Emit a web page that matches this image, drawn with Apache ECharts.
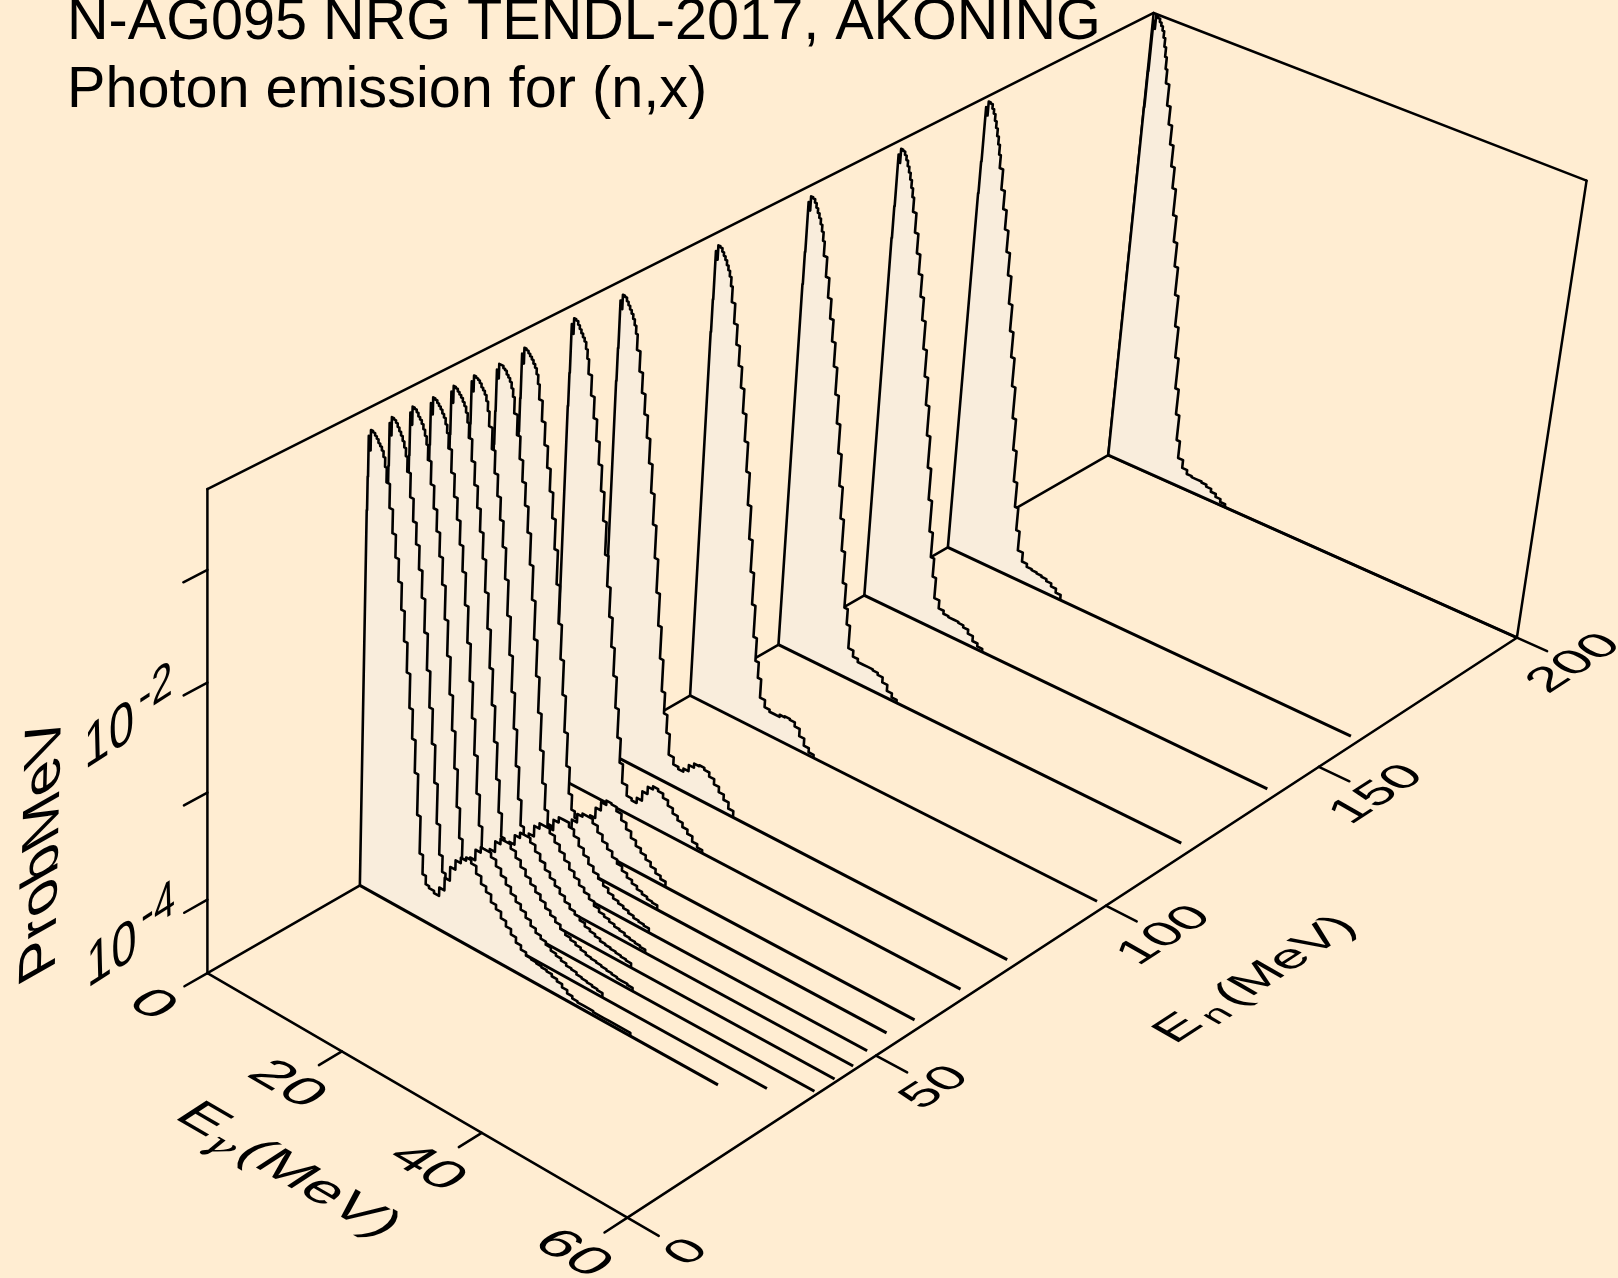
<!DOCTYPE html>
<html><head><meta charset="utf-8">
<style>html,body{margin:0;padding:0;background:#FFEDD2;overflow:hidden}#c{width:1618px;height:1278px}</style>
<script src="https://cdn.jsdelivr.net/npm/echarts@6/dist/echarts.min.js"></script></head>
<body><div id="c"></div>
<script>
// ---------- data ----------
const gammaEdges = [0,.05,.1,.2,.4,.7,1,1.25,1.5,1.75,2,2.25,2.5,2.75,3.25,3.75,4.25,4.75,5.25,5.75,6.25,6.75,7.25,7.75,8.25,8.75,9.25,9.75,10.25,11,11.75,12.5,13.25,14,14.75,15.5,16.25,17,17.75,18.5,19.25,20,20.75,21.5,22.25,23,23.75,24.5,25.25,26,26.75,27.5,28.25,29,29.75,30.5,31.25,32,32.75,33.5,34.25,35,35.75,36.5,37.25,38,38.75,39.5];
const neutronEnergies = [30,34,38,42,46,50,55,60,70,80,100,120,140,160,200];
const baselineEnds    = [51.7,55.7,59.5,59.6,59.5,58.8,58.2,58.8,58.7,58.8,58.8,58.4,58.6,58.8,60];
// log10(Prob/MeV) in each gamma bin
const spec30 = [-1.2,-.9,-.54,-.66,-.48,-.49,-.51,-.53,-.56,-.58,-.61,-.66,-.74,-.87,-1.08,-1.29,-1.49,-1.69,-1.93,-2.2,-2.47,-2.78,-3.05,-3.35,-3.73,-4.08,-4.26,-4.34,-4.36,-4.38,-4.3,-4.18,-4.05,-3.96,-3.91,-3.88,-3.91,-3.98,-4.05,-4.1,-4.17,-4.21,-4.27,-4.32,-4.37,-4.42,-4.46,-4.49,-4.5,-4.51,-4.52,-4.53,-4.55,-4.57,-4.6,-4.63,-4.65,-4.66,-4.66,-4.66,-4.67,-4.67,-4.67,-4.67,-4.67,-4.67,-4.67];
const spec34 = [-1.2,-.9,-.52,-.62,-.46,-.47,-.49,-.52,-.55,-.58,-.62,-.67,-.74,-.87,-1.08,-1.28,-1.47,-1.68,-1.92,-2.22,-2.55,-2.88,-3.2,-3.55,-3.92,-4.2,-4.35,-4.4,-4.4,-4.42,-4.33,-4.2,-4.07,-3.97,-3.92,-3.92,-3.96,-4.02,-4.08,-4.14,-4.2,-4.25,-4.3,-4.35,-4.4,-4.44,-4.47,-4.5,-4.53,-4.55,-4.57,-4.59,-4.6,-4.62,-4.63,-4.64,-4.65,-4.66];
const spec38 = [-1.2,-.9,-.52,-.62,-.46,-.47,-.49,-.52,-.54,-.57,-.61,-.66,-.73,-.86,-1.06,-1.26,-1.45,-1.66,-1.9,-2.2,-2.52,-2.86,-3.18,-3.52,-3.87,-4.15,-4.33,-4.4,-4.42,-4.44,-4.36,-4.23,-4.1,-4,-3.95,-3.95,-3.99,-4.05,-4.11,-4.17,-4.22,-4.27,-4.32,-4.37,-4.41,-4.45,-4.49,-4.52,-4.54,-4.56,-4.58,-4.6,-4.61,-4.62,-4.63,-4.64,-4.65,-4.66,-4.66,-4.67];
const spec42 = [-1.2,-.9,-.53,-.62,-.47,-.48,-.5,-.52,-.54,-.57,-.6,-.65,-.72,-.85,-1.05,-1.25,-1.44,-1.65,-1.88,-2.17,-2.5,-2.84,-3.17,-3.5,-3.85,-4.14,-4.34,-4.42,-4.44,-4.46,-4.39,-4.27,-4.14,-4.05,-4,-4,-4.04,-4.1,-4.16,-4.22,-4.27,-4.32,-4.37,-4.42,-4.46,-4.49,-4.52,-4.55,-4.57,-4.59,-4.61,-4.62,-4.63,-4.64,-4.65,-4.66];
const spec46 = [-1.2,-.9,-.52,-.61,-.46,-.47,-.49,-.51,-.53,-.56,-.59,-.64,-.72,-.85,-1.04,-1.24,-1.43,-1.63,-1.86,-2.15,-2.47,-2.82,-3.15,-3.48,-3.82,-4.12,-4.34,-4.44,-4.46,-4.48,-4.41,-4.3,-4.17,-4.07,-4.02,-4.02,-4.06,-4.12,-4.18,-4.24,-4.3,-4.35,-4.4,-4.44,-4.48,-4.52,-4.55,-4.57,-4.59,-4.61,-4.62,-4.64,-4.65,-4.66,-4.67];
const spec50 = [-1.2,-.9,-.52,-.6,-.46,-.47,-.48,-.5,-.53,-.55,-.58,-.63,-.71,-.84,-1.03,-1.23,-1.42,-1.62,-1.85,-2.13,-2.45,-2.8,-3.13,-3.46,-3.8,-4.1,-4.34,-4.46,-4.48,-4.5,-4.44,-4.34,-4.22,-4.12,-4.07,-4.07,-4.11,-4.17,-4.24,-4.3,-4.36,-4.41,-4.45,-4.49,-4.53,-4.56,-4.58,-4.6,-4.62,-4.64,-4.65,-4.66];
const spec55 = [-1.2,-.9,-.53,-.6,-.47,-.47,-.49,-.5,-.53,-.55,-.58,-.63,-.7,-.84,-1.02,-1.22,-1.41,-1.61,-1.84,-2.12,-2.43,-2.78,-3.11,-3.44,-3.78,-4.08,-4.32,-4.46,-4.5,-4.52,-4.47,-4.38,-4.28,-4.2,-4.17,-4.17,-4.21,-4.27,-4.33,-4.38,-4.43,-4.47,-4.51,-4.55,-4.58,-4.61,-4.63,-4.65,-4.66];
const spec60 = [-1.2,-.9,-.5,-.58,-.44,-.45,-.47,-.49,-.51,-.54,-.57,-.62,-.7,-.83,-1.01,-1.21,-1.4,-1.6,-1.83,-2.1,-2.41,-2.76,-3.08,-3.4,-3.74,-4.05,-4.3,-4.44,-4.5,-4.53,-4.48,-4.4,-4.3,-4.22,-4.18,-4.19,-4.23,-4.29,-4.35,-4.41,-4.46,-4.5,-4.54,-4.58,-4.62,-4.65];
const spec70 = [-1.2,-.9,-.46,-.54,-.4,-.41,-.44,-.47,-.5,-.53,-.56,-.62,-.7,-.83,-1.01,-1.2,-1.39,-1.59,-1.82,-2.08,-2.38,-2.66,-2.93,-3.2,-3.46,-3.75,-4.02,-4.25,-4.43,-4.53,-4.55,-4.5,-4.41,-4.34,-4.31,-4.33,-4.37,-4.42,-4.47,-4.51,-4.55,-4.59,-4.64,-4.67];
const spec80 = [-1.2,-.9,-.47,-.54,-.41,-.42,-.45,-.48,-.51,-.54,-.58,-.63,-.7,-.84,-1.02,-1.2,-1.38,-1.58,-1.8,-2.06,-2.34,-2.64,-2.95,-3.25,-3.55,-3.85,-4.05,-4.22,-4.42,-4.49,-4.51,-4.48,-4.42,-4.38,-4.37,-4.39,-4.43,-4.48,-4.53,-4.58,-4.64];
const spec100 = [-1.2,-.9,-.46,-.53,-.4,-.41,-.44,-.47,-.5,-.54,-.58,-.63,-.71,-.85,-1.03,-1.21,-1.39,-1.58,-1.8,-2.05,-2.32,-2.62,-2.93,-3.23,-3.53,-3.83,-4.05,-4.2,-4.38,-4.45,-4.47,-4.47,-4.45,-4.44,-4.45,-4.49,-4.56,-4.63,-4.67];
const spec120 = [-1.2,-.9,-.44,-.51,-.38,-.39,-.42,-.46,-.5,-.54,-.59,-.65,-.73,-.86,-1.04,-1.22,-1.4,-1.6,-1.82,-2.07,-2.33,-2.6,-2.9,-3.2,-3.5,-3.8,-4.03,-4.18,-4.4,-4.46,-4.49,-4.49,-4.49,-4.5,-4.52,-4.57,-4.63,-4.67];
const spec140 = [-1.2,-.9,-.42,-.49,-.36,-.37,-.4,-.44,-.49,-.54,-.6,-.67,-.75,-.88,-1.06,-1.24,-1.42,-1.62,-1.83,-2.09,-2.34,-2.6,-2.88,-3.18,-3.48,-3.78,-4.02,-4.2,-4.4,-4.48,-4.51,-4.52,-4.52,-4.53,-4.55,-4.59,-4.64,-4.67];
const spec160 = [-1.2,-.9,-.39,-.46,-.33,-.34,-.38,-.42,-.48,-.54,-.61,-.68,-.77,-.89,-1.08,-1.25,-1.43,-1.63,-1.84,-2.1,-2.35,-2.59,-2.86,-3.16,-3.46,-3.76,-4,-4.22,-4.41,-4.5,-4.53,-4.54,-4.55,-4.56,-4.58,-4.61,-4.65];
const spec200 = [-1.2,-.85,-.37,-.44,-.31,-.33,-.36,-.39,-.43,-.49,-.57,-.66,-.77,-.9,-1.1,-1.27,-1.45,-1.65,-1.85,-2.1,-2.35,-2.58,-2.85,-3.15,-3.45,-3.75,-4,-4.25,-4.42,-4.5,-4.54,-4.55,-4.55,-4.56,-4.58,-4.61,-4.64,-4.67];
const spectra = [spec30,spec34,spec38,spec42,spec46,spec50,spec55,spec60,spec70,spec80,spec100,spec120,spec140,spec160,spec200];
const gammaTicks = [0,20,40,60];
const neutronTicks = [0,50,100,150,200];
const probTicks = [-4,-3,-2,-1];
const probLabels = [-4,-2];
const titleLines = ['N-AG095 NRG TENDL-2017, AKONING','Photon emission for (n,x)'];

// ---------- box ranges and camera ----------
const gammaMax = 60, neutronMax = 200, logMin = -4.7, logMax = -0.3;
const S = 1618/1568;
const cam = {g:-.05815,h:.15435,i:-.0554,A:371.64,B:1038.77,C:-11.14,X:201,D:168.38,E:-433.93,F:-495.26,Y:943};
function project(eg,en,lg){
  const x=eg/gammaMax,y=en/neutronMax,z=(lg-logMin)/(logMax-logMin);
  const w=1+cam.g*x+cam.h*y+cam.i*z;
  return [S*(cam.A*x+cam.B*y+cam.C*z+cam.X)/w, S*(cam.D*x+cam.E*y+cam.F*z+cam.Y)/w];
}
const INK='#000', BG='#FFEDD2', FILL='#F9EDDC', FONT='"Liberation Sans",Arial,sans-serif';

function frame(X,Y){ // X: image of text +x, Y: image of text +y (down)
  const th=Math.atan2(-X[1],X[0]),ct=Math.cos(th),st=Math.sin(th);
  const y1=Y[0]*ct-Y[1]*st,y2=Y[0]*st+Y[1]*ct;
  return {rotation:th,scaleX:Math.hypot(X[0],X[1]),scaleY:y2,skewX:Math.atan(y1/y2)};
}
const gammaFrame=[[1.07,.62],[-.86,.56]];
const neutronFrame=[[.91,-.59],[.8,.46]];
const probFrame=[[.9,-.58],[.03,1.2]];
const probTitleFrame=[[.03,-1.24],[1.05,-.6]];

function textEl(str,pt,fr,size,dx,dy,style){
  const f=frame(fr[0],fr[1]);
  const px=pt[0]+fr[0][0]*(dx||0)+fr[1][0]*(dy||0);
  const py=pt[1]+fr[0][1]*(dx||0)+fr[1][1]*(dy||0);
  return {type:'text',x:px,y:py,rotation:f.rotation,scaleX:f.scaleX,scaleY:f.scaleY,skewX:f.skewX,silent:true,
    style:Object.assign({text:str,fontSize:size,fontFamily:FONT,fill:INK,align:'center',verticalAlign:'middle'},style||{})};
}
function line(api,a,b,w){
  const p=api.coord(a),q=api.coord(b);
  return {type:'line',shape:{x1:p[0],y1:p[1],x2:q[0],y2:q[1]},style:{stroke:INK,lineWidth:w||2.5,lineCap:'round'},silent:true};
}
function boxItem(params,api){
  const c=[],P=project,g=gammaMax,n=neutronMax,b=logMin,t=logMax;
  const L=(u,v,w)=>c.push(line(api,u,v,w));
  L(P(0,0,b),P(0,0,t)); L(P(0,0,t),P(0,n,t)); L(P(0,n,t),P(g,n,t)); L(P(g,n,t),P(g,n,b));
  L(P(0,n,b),P(0,n,t)); L(P(0,0,b),P(0,n,b)); L(P(0,n,b),P(g,n,b));
  L(P(0,0,b),P(g,0,b)); L(P(g,0,b),P(g,n,b));
  gammaTicks.forEach(e=>L(P(e,0,b),P(e,-4.4,b)));
  neutronTicks.forEach(e=>L(P(g,e,b),P(64.2,e,b)));
  probTicks.forEach(v=>L(P(0,0,v),P(0,-4.4,v)));
  return {type:'group',children:c};
}
function labelItem(){
  const c=[];
  gammaTicks.forEach(e=>c.push(textEl(String(e),project(e,-10.6,logMin),gammaFrame,50)));
  neutronTicks.forEach(e=>c.push(textEl(String(e),project(68,e,logMin),neutronFrame,50)));
  probLabels.forEach(v=>{
    const a=project(0,-18,v-.02);
    c.push(textEl('10',a,probFrame,50));
    c.push(textEl('-'+Math.abs(v),a,probFrame,42,52,-14));
  });
  const tg=project(30,-24,logMin);
  c.push(textEl('E',tg,gammaFrame,50,-78,-2));
  c.push(textEl('γ',tg,gammaFrame,36,-50,14,{fontFamily:'"DejaVu Serif",serif',fontStyle:'italic'}));
  c.push(textEl('(MeV)',tg,gammaFrame,50,32,0));
  const tn=project(80,100,logMin);
  c.push(textEl('E',tn,neutronFrame,50,-82,-2));
  c.push(textEl('n',tn,neutronFrame,36,-50,10));
  c.push(textEl('(MeV)',tn,neutronFrame,50,34,0));
  c.push(textEl('ProbMeV',project(0,-30,-2.69),probTitleFrame,50));
  return {type:'group',children:c};
}
function spectrumItem(idx){
  return function(params,api){
    const en=neutronEnergies[idx],vals=spectra[idx],pts=[];
    pts.push(api.coord(project(0,en,logMin)));
    vals.forEach((v,i)=>{
      pts.push(api.coord(project(gammaEdges[i],en,v)));
      pts.push(api.coord(project(gammaEdges[i+1],en,v)));
    });
    pts.push(api.coord(project(gammaEdges[vals.length],en,logMin)));
    const a=api.coord(project(0,en,logMin)),b=api.coord(project(baselineEnds[idx],en,logMin));
    return {type:'group',children:[
      {type:'polygon',shape:{points:pts},style:{fill:FILL,stroke:null},silent:true},
      {type:'line',shape:{x1:a[0],y1:a[1],x2:b[0],y2:b[1]},style:{stroke:INK,lineWidth:3},silent:true},
      {type:'polyline',shape:{points:pts},style:{stroke:INK,lineWidth:2.6,fill:null,lineJoin:'round'},silent:true}
    ]};
  };
}
const series=[{type:'custom',coordinateSystem:'cartesian2d',data:[[0,0]],renderItem:boxItem,z:1,animation:false,clip:false,silent:true}];
for(let i=spectra.length-1;i>=0;i--){
  series.push({type:'custom',name:'En '+neutronEnergies[i],coordinateSystem:'cartesian2d',data:[[0,0]],renderItem:spectrumItem(i),z:2+(spectra.length-i),animation:false,clip:false,silent:true});
}
series.push({type:'custom',coordinateSystem:'cartesian2d',data:[[0,0]],renderItem:labelItem,z:50,animation:false,clip:false,silent:true});

const chart=echarts.init(document.getElementById('c'),null,{renderer:'canvas',width:1618,height:1278});
chart.setOption({
  backgroundColor:BG,animation:false,
  title:[
    {text:titleLines[0],left:62,top:-11,textStyle:{fontFamily:FONT,fontWeight:'normal',fontSize:57.6,color:INK}},
    {text:titleLines[1],left:62,top:57,textStyle:{fontFamily:FONT,fontWeight:'normal',fontSize:57.6,color:INK}}
  ],
  grid:{left:0,right:0,top:0,bottom:0},
  xAxis:{type:'value',min:0,max:1618,show:false},
  yAxis:{type:'value',min:0,max:1278,inverse:true,show:false},
  series:series
});
</script></body></html>
